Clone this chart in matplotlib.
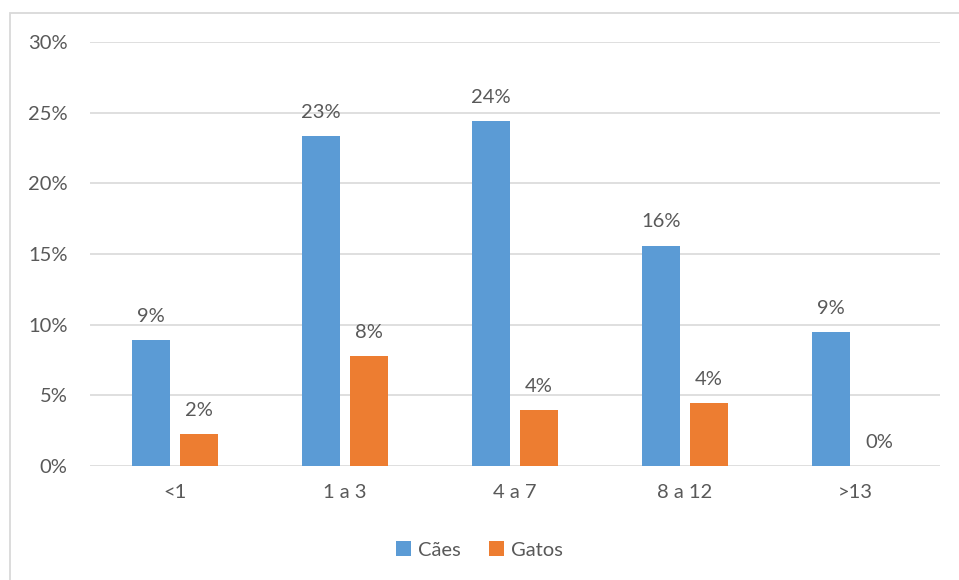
import matplotlib
matplotlib.use("Agg")
import matplotlib.pyplot as plt
from matplotlib.patches import Rectangle
import numpy as np

categories = ["<1", "1 a 3", "4 a 7", "8 a 12", ">13"]
caes = [8.9, 23.35, 24.4, 15.6, 9.45]
gatos = [2.25, 7.8, 3.95, 4.45, 0.0]
caes_labels = ["9%", "23%", "24%", "16%", "9%"]
gatos_labels = ["2%", "8%", "4%", "4%", "0%"]
yticks = [0, 5, 10, 15, 20, 25, 30]

text_color = "#595959"
fs = 14.5
plt.rcParams["font.family"] = ["Lato", "DejaVu Sans"]

fig = plt.figure(figsize=(9.59, 5.80), dpi=100)
ax = fig.add_axes([0.0938, 0.1966, 0.8862, 0.731])

# chart border
fig.patches.append(Rectangle((10 / 959, -0.01), 1.2, 1 - 13 / 580 + 0.01,
                             transform=fig.transFigure, fill=False,
                             edgecolor="#D9D9D9", linewidth=1.3))

x = np.arange(len(categories))
w = 0.225
off = 0.142
b1 = ax.bar(x - off, caes, w, color="#5B9BD5", label="Cães", zorder=3)
b2 = ax.bar(x + off, gatos, w, color="#ED7D31", label="Gatos", zorder=3)

for bars, labels in ((b1, caes_labels), (b2, gatos_labels)):
    for bar, lab in zip(bars, labels):
        ax.annotate(lab, (bar.get_x() + bar.get_width() / 2, bar.get_height()),
                    xytext=(0, 17), textcoords="offset points",
                    ha="center", va="center", fontsize=fs, color=text_color)

ax.set_xlim(-0.5, len(categories) - 0.5)
ax.set_ylim(0, 30)
ax.set_yticks(yticks)
ax.set_yticklabels([f"{v}%" for v in yticks])
ax.set_xticks(x)
ax.set_xticklabels(categories)
ax.tick_params(axis="both", length=0, labelsize=fs, labelcolor=text_color)
ax.tick_params(axis="x", pad=13)
ax.tick_params(axis="y", pad=16)
ax.grid(axis="y", color="#D9D9D9", linewidth=1.2, zorder=0)
for s in ax.spines.values():
    s.set_visible(False)

leg = fig.legend(handles=[b1, b2], loc="center", bbox_to_anchor=(0.5, 1 - 550 / 580),
                 ncol=2, frameon=False, fontsize=fs, handlelength=0.75, handleheight=0.75,
                 handletextpad=0.35, columnspacing=1.4)
for t in leg.get_texts():
    t.set_color(text_color)

fig.savefig("out.png", dpi=100)
